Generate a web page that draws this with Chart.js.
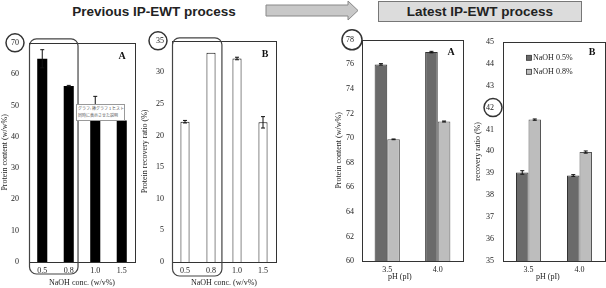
<!DOCTYPE html>
<html lang="en">
<head>
<meta charset="UTF-8">
<title>Previous vs latest IP-EWT process</title>
<script src="https://cdn.jsdelivr.net/npm/chart.js"></script>
<style>
  html, body { margin: 0; padding: 0; background: #fff; }
  #page { position: relative; width: 606px; height: 288px; overflow: hidden; }
  canvas.panel { position: absolute; }
  .head { position: absolute; font-family: "Liberation Sans", Arial, sans-serif; font-weight: bold; font-size: 13.5px; color: #222; white-space: nowrap; }
  #prevTitle { left: 0; width: 308px; top: 4px; text-align: center; }
  #latestBox { left: 378px; top: 1px; width: 202px; height: 19px; line-height: 19px; text-align: center; background: #dcdcdc; border: 1px solid #777; }
  #arrow { position: absolute; left: 264px; top: 0; }
  #tip { position: absolute; left: 76px; top: 104px; width: 46px; height: 15px; background: #fff; border: 1px solid #999;
         font-family: "Noto Sans CJK JP", sans-serif; font-size: 4px; line-height: 7px; color: #555; white-space: nowrap; overflow: hidden; padding-left: 1px; }
</style>
</head>
<body>
<div id="page">
  <div id="prevTitle" class="head">Previous IP-EWT process</div>
  <svg id="arrow" width="98" height="22"><polygon points="2,5 84,5 84,1 94,10.5 84,20 84,16 2,16" fill="#c8c8c8" stroke="#888" stroke-width="1"/></svg>
  <div id="latestBox" class="head">Latest IP-EWT process</div>

  <canvas id="prevA" class="panel" width="140" height="260" style="left:0;top:28px"></canvas>
  <canvas id="prevB" class="panel" width="146" height="260" style="left:140px;top:28px"></canvas>
  <canvas id="latestA" class="panel" width="142" height="261" style="left:326px;top:27px"></canvas>
  <canvas id="latestB" class="panel" width="138" height="260" style="left:468px;top:28px"></canvas>

  <div id="tip">グラフ: 棒グラフ 1 ヒストグラム<br>同時に表示させた説明</div>
</div>
<script>
// previous process (NaOH concentration series)
const prevNaoh = ['0.5', '0.8', '1.0', '1.5'];
const prevContent = [64.9, 56.2, 49.6, 45.2];
const prevContentErr = [2.9, 0.2, 3.3, 0];
const prevRecovery = [22.2, 33.1, 32.2, 22.1];
const prevRecoveryErr = [0.2, 0, 0.2, 0.9];
const prevContentTicks = [0, 10, 20, 30, 40, 50, 60, 70];
const prevRecoveryTicks = [0, 5, 10, 15, 20, 25, 30, 35];

// latest process (pH series, two NaOH levels)
const latestPh = ['3.5', '4.0'];
const seriesNames = ['NaOH 0.5%', 'NaOH 0.8%'];
const latestContent05 = [76.0, 77.0];
const latestContent05Err = [0.06, 0.06];
const latestContent08 = [69.9, 71.35];
const latestContent08Err = [0.03, 0.04];
const latestRecovery05 = [39.04, 38.9];
const latestRecovery05Err = [0.08, 0.04];
const latestRecovery08 = [41.45, 39.97];
const latestRecovery08Err = [0.03, 0.05];
const latestContentTicks = [60, 62, 64, 66, 68, 70, 72, 74, 76, 78];
const latestRecoveryTicks = [35, 36, 37, 38, 39, 40, 41, 42, 43, 44, 45];

const SERIF = '"Liberation Serif", "Times New Roman", serif';
Chart.defaults.font.family = SERIF;
Chart.defaults.font.size = 8;
Chart.defaults.color = '#333';
Chart.defaults.devicePixelRatio = 1;

const DARK = '#6a6a6a', LIGHT = '#bdbdbd';

// box around the plot area
const framePlugin = {
  id: 'frame',
  afterDraw(chart) {
    const { ctx, chartArea: a } = chart;
    ctx.save();
    ctx.strokeStyle = '#333';
    ctx.lineWidth = 1;
    ctx.strokeRect(Math.round(a.left) + 0.5, Math.round(a.top) + 0.5, Math.round(a.width), Math.round(a.height));
    ctx.restore();
  }
};

// symmetric error bars read from dataset.errors
const errorBarPlugin = {
  id: 'errorBars',
  afterDatasetsDraw(chart) {
    const ctx = chart.ctx, y = chart.scales.y;
    chart.data.datasets.forEach((ds, i) => {
      if (!ds.errors) return;
      chart.getDatasetMeta(i).data.forEach((bar, j) => {
        const e = ds.errors[j];
        if (!e) return;
        const top = y.getPixelForValue(ds.data[j] + e);
        const bot = y.getPixelForValue(ds.data[j] - e);
        ctx.save();
        ctx.strokeStyle = '#111';
        ctx.lineWidth = 1;
        ctx.beginPath();
        ctx.moveTo(bar.x, top); ctx.lineTo(bar.x, bot);
        ctx.moveTo(bar.x - 2, top); ctx.lineTo(bar.x + 2, top);
        ctx.moveTo(bar.x - 2, bot); ctx.lineTo(bar.x + 2, bot);
        ctx.stroke();
        ctx.restore();
      });
    });
  }
};

// panel letter, circled tick, rounded highlight box, legend, x title
const notesPlugin = {
  id: 'notes',
  afterDraw(chart, args, o) {
    const { ctx, chartArea: a, scales: { x, y } } = chart;
    ctx.save();
    if (o.letter) {
      ctx.font = 'bold 10px ' + SERIF;
      ctx.fillStyle = '#111';
      ctx.textAlign = 'center';
      ctx.textBaseline = 'middle';
      ctx.fillText(o.letter, a.right - o.letterDx, a.top + o.letterDy);
    }
    if (o.circle) {
      ctx.strokeStyle = '#333';
      ctx.lineWidth = 1.5;
      ctx.beginPath();
      ctx.arc(a.left - o.circle.dx, y.getPixelForValue(o.circle.value), o.circle.r, 0, Math.PI * 2);
      ctx.stroke();
    }
    if (o.box) {
      const l = x.getPixelForValue(o.box.from) + 0.5, r = x.getPixelForValue(o.box.to);
      const t = a.top - o.box.above, b = a.bottom + o.box.below;
      ctx.strokeStyle = '#444';
      ctx.lineWidth = 1.2;
      ctx.beginPath();
      ctx.roundRect(l, t, r - l, b - t, 7);
      ctx.stroke();
    }
    if (o.legend) {
      chart.data.datasets.forEach((ds, i) => {
        const lx = a.left + o.legend.dx, ly = a.top + o.legend.dy + i * o.legend.gap;
        ctx.fillStyle = ds.backgroundColor;
        ctx.strokeStyle = '#333';
        ctx.lineWidth = 0.8;
        ctx.fillRect(lx - 2.5, ly - 2.5, 5, 5);
        ctx.strokeRect(lx - 2.5, ly - 2.5, 5, 5);
        ctx.fillStyle = '#222';
        ctx.font = '8px ' + SERIF;
        ctx.textAlign = 'left';
        ctx.textBaseline = 'middle';
        ctx.fillText(ds.label, lx + 4, ly + 0.5);
      });
    }
    if (o.xTitle) {
      ctx.fillStyle = '#222';
      ctx.font = '8px ' + SERIF;
      ctx.textAlign = 'center';
      ctx.textBaseline = 'middle';
      ctx.fillText(o.xTitle.text, x.getPixelForValue(o.xTitle.at), a.bottom + o.xTitle.dy);
    }
    ctx.restore();
  }
};

function makePanel(id, p) {
  return new Chart(document.getElementById(id), {
    type: 'bar',
    data: { labels: p.labels, datasets: p.datasets },
    plugins: [framePlugin, errorBarPlugin, notesPlugin],
    options: {
      responsive: false,
      animation: false,
      layout: { padding: { top: p.padTop, right: p.padRight, left: 0, bottom: 0 } },
      plugins: { legend: { display: false }, tooltip: { enabled: false }, notes: p.notes },
      scales: {
        x: {
          grid: { display: false, drawTicks: false },
          border: { display: false },
          ticks: { padding: 4, color: '#222', maxRotation: 0 },
          title: p.xTitle ? { display: true, text: p.xTitle, color: '#222', padding: { top: 5, bottom: 0 } } : { display: false },
          afterFit: s => { s.height = p.xHeight; }
        },
        y: {
          min: p.yTicks[0],
          max: p.yTicks[p.yTicks.length - 1],
          grid: { display: false, drawTicks: false },
          border: { display: false },
          ticks: { padding: p.tickPad, color: '#222' },
          afterBuildTicks: s => { s.ticks = p.yTicks.map(v => ({ value: v })); },
          title: { display: true, text: p.yTitle, color: '#222', padding: { top: p.yTitlePad, bottom: 0 } },
          afterFit: s => { s.width = p.yWidth; }
        }
      }
    }
  });
}

makePanel('prevA', {
  labels: prevNaoh,
  datasets: [{ data: prevContent, errors: prevContentErr, backgroundColor: '#000', borderWidth: 0,
               barPercentage: 0.38, categoryPercentage: 1 }],
  yTicks: prevContentTicks, yTitle: 'Protein content (w/w%)', xTitle: 'NaOH conc. (w/v%)',
  padTop: 10, padRight: 5, xHeight: 26, yWidth: 29, tickPad: 10, yTitlePad: 0,
  notes: { letter: 'A', letterDx: 13, letterDy: 14, circle: { value: 70, dx: 14, r: 9 },
           box: { from: -0.5, to: 1.35, above: 4, below: 12 } }
});

makePanel('prevB', {
  labels: prevNaoh,
  datasets: [{ data: prevRecovery, errors: prevRecoveryErr, backgroundColor: '#fff', borderColor: '#111', borderWidth: 1,
               barPercentage: 0.35, categoryPercentage: 1 }],
  yTicks: prevRecoveryTicks, yTitle: 'Protein recovery ratio (%)', xTitle: 'NaOH conc. (w/v%)',
  padTop: 10, padRight: 10, xHeight: 26, yWidth: 32, tickPad: 8, yTitlePad: 0,
  notes: { letter: 'B', letterDx: 11, letterDy: 14, circle: { value: 35, dx: 14, r: 9 },
           box: { from: -0.5, to: 1.42, above: 3, below: 14 } }
});

makePanel('latestA', {
  labels: latestPh,
  datasets: [
    { label: seriesNames[0], data: latestContent05, errors: latestContent05Err, backgroundColor: DARK, borderColor: '#333', borderWidth: 1,
      barPercentage: 1, categoryPercentage: 0.5 },
    { label: seriesNames[1], data: latestContent08, errors: latestContent08Err, backgroundColor: LIGHT, borderColor: '#555', borderWidth: 1,
      barPercentage: 1, categoryPercentage: 0.5 }
  ],
  yTicks: latestContentTicks, yTitle: 'Protein content (w/w%)',
  padTop: 10, padRight: 5, xHeight: 27, yWidth: 36, tickPad: 8, yTitlePad: 8,
  notes: { letter: 'A', letterDx: 12, letterDy: 13, circle: { value: 78, dx: 10, r: 10 },
           xTitle: { text: 'pH (pI)', at: 0.25, dy: 16 } }
});

makePanel('latestB', {
  labels: latestPh,
  datasets: [
    { label: seriesNames[0], data: latestRecovery05, errors: latestRecovery05Err, backgroundColor: DARK, borderColor: '#333', borderWidth: 1,
      barPercentage: 1, categoryPercentage: 0.49 },
    { label: seriesNames[1], data: latestRecovery08, errors: latestRecovery08Err, backgroundColor: LIGHT, borderColor: '#555', borderWidth: 1,
      barPercentage: 1, categoryPercentage: 0.49 }
  ],
  yTicks: latestRecoveryTicks, yTitle: 'recovery ratio (%)',
  padTop: 10, padRight: 1, xHeight: 27, yWidth: 35, tickPad: 9, yTitlePad: 5,
  notes: { letter: 'B', letterDx: 13, letterDy: 11, circle: { value: 42, dx: 10, r: 9 },
           legend: { dx: 26, dy: 16, gap: 14 },
           xTitle: { text: 'pH (pI)', at: 0.38, dy: 16 } }
});
</script>
</body>
</html>
